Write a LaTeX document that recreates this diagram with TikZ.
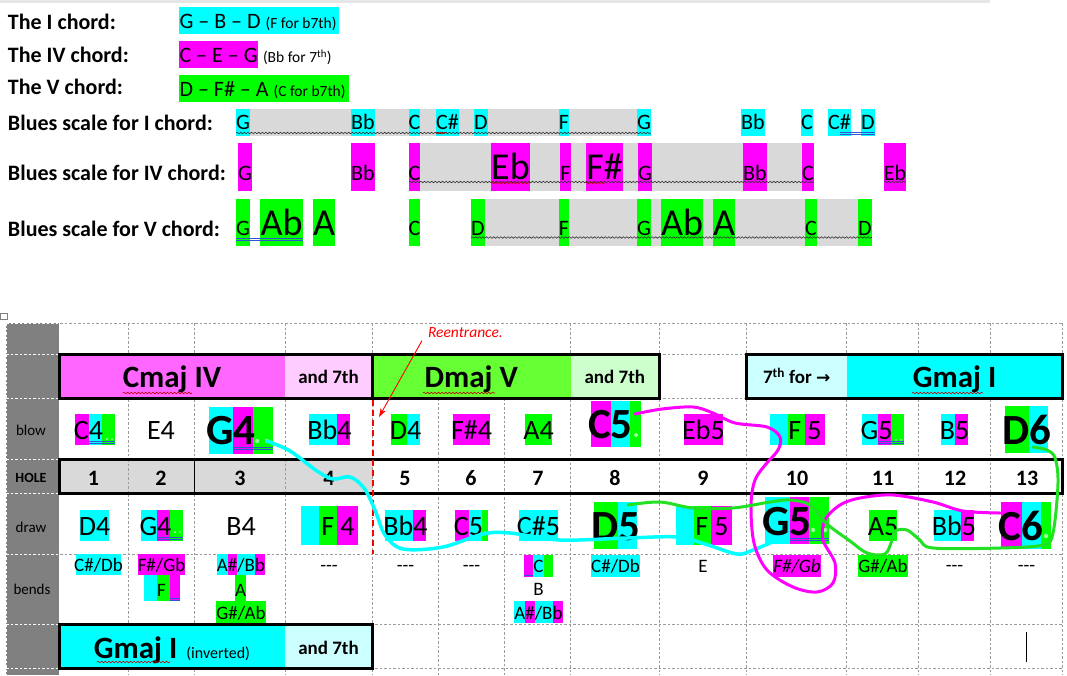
\documentclass[tikz,border=0pt]{standalone}
\usepackage{fontspec}
\setmainfont{Carlito}
\newfontfamily\dejavu{DejaVu Sans}
\usetikzlibrary{decorations.pathmorphing,arrows.meta}
\definecolor{cy}{HTML}{00FFFF}
\definecolor{mg}{HTML}{FF00FF}
\definecolor{gr}{HTML}{00FF00}
\definecolor{lg}{HTML}{D9D9D9}
\definecolor{dg}{HTML}{808080}
\definecolor{cmajc}{HTML}{FF66FF}
\definecolor{csev}{HTML}{FFCCFF}
\definecolor{dmajc}{HTML}{66FF33}
\definecolor{dsev}{HTML}{CCFFCC}
\definecolor{gsev}{HTML}{CCFFFF}
\definecolor{gridc}{HTML}{9A9A9A}
\definecolor{wavered}{HTML}{C00000}
\definecolor{blue2}{HTML}{2F55D4}
\definecolor{dotg}{HTML}{99FF99}
\definecolor{topg}{HTML}{E6E6E6}
\definecolor{curveg}{HTML}{22E022}
\newcommand\fs[1]{\fontsize{#1}{#1}\selectfont}
\newcommand\hb[5]{\fill[#1] (#2,#4) rectangle (#3,#5);}
\newcommand\sn[9]{\fill[#2] (#3,#5) rectangle (#4,#6); \node[#8] (#1) at ({(#3+#4)/2},#7) {#9};}
\newcommand\tdash{{-}{-}{-}}
\begin{document}
\begin{tikzpicture}[x=1pt,y=-1pt,
  every node/.style={inner sep=0pt,outer sep=0pt},
  lbl/.style={font=\fs{22}\bfseries,anchor=base west},
  sc/.style={font=\fs{22},anchor=base},
  scb/.style={font=\fs{38},anchor=base},
  nt/.style={font=\fs{28},anchor=base},
  bgn/.style={font=\fs{43}\bfseries,anchor=base},
  bd/.style={font=\fs{19},anchor=base},
  holenum/.style={font=\fs{22}\bfseries,anchor=base},
  sidel/.style={font=\fs{15}},
  hd/.style={font=\fs{31}\bfseries,anchor=base},
  andsev/.style={font=\fs{19}\bfseries,anchor=base},
  gridl/.style={draw=gridc,line width=0.8pt,dash pattern=on 2.5pt off 2pt},
  wgrid/.style={draw=white,line width=0.8pt,dash pattern=on 2.5pt off 2pt},
  tb/.style={line width=3pt},
  wavy/.style={decorate,decoration={snake,amplitude=0.8pt,segment length=3.6pt},line width=0.6pt,draw=black!80},
  rwavy/.style={wavy,draw=wavered},
  blu/.style={draw=blue2,line width=0.8pt},
  gdot/.style={fill=dotg},
  ncurve/.style={line width=3pt,line cap=round,line join=round},
]
\useasboundingbox (0,0) rectangle (1067,675);
\fill[white] (0,0) rectangle (1067,675);
\fill[topg] (0,0) rectangle (990,3);
\draw[gray,line width=0.5pt] (0.5,313) rectangle (7,319.5);

% ---------------- top section ----------------
\node[lbl] (l1) at (8,29.3) {The I chord:};
\node[lbl] (l2) at (8,62.5) {The IV chord:};
\node[lbl] (l3) at (8,94.3) {The V chord:};
\node[lbl] (l4) at (8,130) {Blues scale for I chord:};
\node[lbl] (l5) at (8,180) {Blues scale for IV chord:};
\node[lbl] (l6) at (8,236) {Blues scale for V chord:};

\hb{cy}{179}{339}{7}{34}
\node[anchor=base west] (c1) at (179.5,28.5) {\fs{22}G – B – D {\fs{15.5}(F for b7th)}};
\hb{mg}{179}{258}{41}{68}
\node[anchor=base west] (c2) at (179.5,62.3) {\fs{22}C – E – G};
\node[anchor=base west] (c2b) at (263,62.3) {\fs{15.5}(Bb for 7\textsuperscript{th})};
\hb{gr}{179}{349}{75}{102}
\node[anchor=base west] (c3) at (179.5,96.7) {\fs{22}D – F\# – A {\fs{15.5}(C for b7th)}};

% I row
\fill[lg] (236,109) rectangle (637,135.7);
\sn{iG1}{cy}{236}{250}{109}{135.7}{129.5}{sc}{G}
\sn{iBb1}{cy}{351}{375}{109}{135.7}{129.5}{sc}{Bb}
\sn{iC1}{cy}{409}{420}{109}{135.7}{129.5}{sc}{C}
\sn{iCs1}{cy}{436}{459}{109}{135.7}{129.5}{sc}{C\#}
\sn{iD1}{cy}{474}{488}{109}{135.7}{129.5}{sc}{D}
\sn{iF1}{cy}{559}{569}{109}{135.7}{129.5}{sc}{F}
\sn{iG2}{cy}{637}{651}{109}{135.7}{129.5}{sc}{G}
\sn{iBb2}{cy}{741}{765}{109}{135.7}{129.5}{sc}{Bb}
\sn{iC2}{cy}{801}{813}{109}{135.7}{129.5}{sc}{C}
\sn{iCs2}{cy}{828}{851}{109}{135.7}{129.5}{sc}{C\#}
\sn{iD2}{cy}{861}{875}{109}{135.7}{129.5}{sc}{D}
\draw[wavy] (236,133) -- (651,133);
\draw[rwavy] (436,133) -- (447,133);
\draw[blu] (840,132.5) -- (875,132.5);
\draw[blu] (840,134.5) -- (875,134.5);

% IV row
\fill[lg] (409,142.7) rectangle (814,190.7);
\sn{ivG1}{mg}{238}{252}{142.7}{190.7}{180}{sc}{G}
\sn{ivBb1}{mg}{351}{375}{142.7}{190.7}{180}{sc}{Bb}
\sn{ivC1}{mg}{409}{420}{142.7}{190.7}{180}{sc}{C}
\sn{ivEb1}{mg}{491}{530}{142.7}{190.7}{179}{scb}{Eb}
\sn{ivF1}{mg}{560}{571}{142.7}{190.7}{180}{sc}{F}
\sn{ivFs1}{mg}{586}{623}{142.7}{190.7}{179}{scb}{F\#}
\sn{ivG2}{mg}{638}{652}{142.7}{190.7}{180}{sc}{G}
\sn{ivBb2}{mg}{743}{767}{142.7}{190.7}{180}{sc}{Bb}
\sn{ivC2}{mg}{802}{814}{142.7}{190.7}{180}{sc}{C}
\sn{ivEb2}{mg}{884}{906}{142.7}{190.7}{180}{sc}{Eb}
\draw[wavy] (409,182) -- (814,182);
\draw[wavy] (884,182) -- (906,182);
\draw[rwavy] (491,183) -- (530,183);
\draw[rwavy] (586,183) -- (605,183);

% V row
\fill[lg] (471,199) rectangle (858,245.7);
\sn{vG1}{gr}{236}{250}{199}{245.7}{235.7}{sc}{G}
\sn{vAb1}{gr}{260}{303}{199}{245.7}{235.7}{scb}{Ab}
\sn{vA1}{gr}{313}{335}{199}{245.7}{235.7}{scb}{A}
\sn{vC1}{gr}{409}{420}{199}{245.7}{235.7}{sc}{C}
\sn{vD1}{gr}{471}{485}{199}{245.7}{235.7}{sc}{D}
\sn{vF1}{gr}{559}{569}{199}{245.7}{235.7}{sc}{F}
\sn{vG2}{gr}{637}{651}{199}{245.7}{235.7}{sc}{G}
\sn{vAb2}{gr}{661}{703}{199}{245.7}{235.7}{scb}{Ab}
\sn{vA2}{gr}{713}{735}{199}{245.7}{235.7}{scb}{A}
\sn{vC2}{gr}{805}{817}{199}{245.7}{235.7}{sc}{C}
\sn{vD2}{gr}{858}{872}{199}{245.7}{235.7}{sc}{D}
\draw[wavy] (471,237.5) -- (872,237.5);
\draw[blu] (236,238.5) -- (303,238.5);
\draw[blu] (236,240.5) -- (303,240.5);

% ---------------- table ----------------
\foreach \x in {6,59,128,194,285,372,570.7,659,746.7,846.7,918.7,990.7,1062.7}
  \draw[gridl] (\x,323) -- (\x,675);
\foreach \x in {438.7,504}
  \draw[gridl] (\x,398) -- (\x,675);
\foreach \y in {323,354,398,459,493,554,624,668}
  \draw[gridl] (6,\y) -- (1062.7,\y);

% grey header column
\fill[dg] (6,323) rectangle (59,675);
\foreach \y in {323,354,398,459,493,554,624,668}
  \draw[wgrid] (6,\y) -- (59,\y);
\draw[wgrid] (6,323) -- (6,675);
\draw[wgrid] (59,323) -- (59,675);
\node[sidel] (sblow) at (31,430) {blow};
\node[sidel,font=\fs{14}\bfseries] (shole) at (31,478) {HOLE};
\node[sidel] (sdraw) at (31,527) {draw};
\node[sidel] (sbend) at (32,589) {bends};

% chord band
\fill[cmajc] (59,354) rectangle (285,398);
\fill[csev] (285,354) rectangle (372,398);
\fill[dmajc] (372,354) rectangle (570.7,398);
\fill[dsev] (570.7,354) rectangle (659,398);
\fill[gsev] (746.7,354) rectangle (846.7,398);
\fill[cy] (846.7,354) rectangle (1062.7,398);
\draw[tb] (59,354) rectangle (659,398);
\draw[tb] (372,354) -- (372,398);
\draw[tb] (746.7,354) rectangle (1062.7,398);
\node[hd] (cmaj) at (172,387.3) {Cmaj IV};
\node[andsev] (a7a) at (328.5,383.3) {and 7th};
\node[hd] (dmaj) at (471.3,387.3) {Dmaj V};
\node[andsev] (a7b) at (614.8,383.3) {and 7th};
\node[andsev] (s7) at (796.7,383.3) {7\textsuperscript{th} for {\dejavu\bfseries\fs{17}→}};
\node[hd] (gmaj) at (954.7,387.3) {Gmaj I};
\draw[rwavy] (123,393) -- (192,393);
\draw[rwavy] (423,393) -- (495,393);
\draw[rwavy] (912,393) -- (983,393);

% HOLE row
\fill[lg] (59,459) rectangle (372,493);
\draw[gridl] (128,459) -- (128,493);
\draw[gridl] (285,459) -- (285,493);
\draw[line width=0.9pt] (194,459) -- (194,493);
\draw[tb] (59,459) rectangle (1062.7,493);
\foreach \n/\x in {1/93.5,2/161,3/240,4/329,5/405,6/471,7/538,8/615,9/703,10/797,11/883,12/955,13/1027}
  \node[holenum] (h\n) at (\x,485) {\n};

% bottom chord band
\fill[cy] (59,624) rectangle (285,668);
\fill[gsev] (285,624) rectangle (372,668);
\draw[tb] (59,624) rectangle (372,668);
\node[anchor=base] (ginv) at (172,658) {{\fs{31}\bfseries Gmaj I}\hspace{9pt}{\fs{16}(inverted)}};
\node[andsev] (a7c) at (328.5,654) {and 7th};
\draw[rwavy] (97,662) -- (170,662);

% reentrance marker
\draw[red,line width=2pt,dash pattern=on 6pt off 4pt] (372.5,400) -- (372.5,554);
\node[anchor=base west,font=\fs{15.5}\itshape,text=red] (reent) at (428,337.5) {Reentrance.};
\coordinate (rtip) at (379,417);
\draw[red,line width=0.9pt,-{Stealth[length=9pt,width=6pt]}] ([xshift=-6pt,yshift=-3pt]reent.south west) -- (rtip);

% ---------------- blow row ----------------
\hb{mg}{75}{89}{414}{445}\hb{cy}{89}{102}{414}{445}\hb{gr}{102}{115}{414}{445}
\node[nt] (bC4) at (88.5,439) {C4};
\draw[blu] (89,441.5) -- (115,441.5); \draw[blu] (89,443.5) -- (115,443.5);
\node[nt] (bE4) at (161,439) {E4};
\hb{cy}{209}{233}{407}{454}\hb{mg}{233}{253}{407}{454}\hb{gr}{253}{273}{407}{454}
\node[bgn] (bG4) at (231,444) {G4};
\draw[blu] (233,447.7) -- (273,447.7); \draw[blu] (233,449.7) -- (273,449.7);
\hb{cy}{309}{337}{414}{445}\hb{mg}{337}{350}{414}{445}
\node[nt] (bBb4) at (329.5,439) {Bb4};
\hb{gr}{391}{407}{414}{445}\hb{cy}{407}{420}{414}{445}
\node[nt] (bD4) at (405.5,439) {D4};
\sn{bFs4}{mg}{453}{490}{414}{445}{439}{nt}{F\#4}
\sn{bA4}{gr}{525}{552}{414}{445}{439}{nt}{A4}
\hb{mg}{591}{611}{401}{447}\hb{cy}{611}{630}{401}{447}\hb{gr}{630}{641}{401}{447}
\node[bgn] (bC5) at (610.5,438) {C5};
\sn{bEb5}{mg}{684}{723}{414}{445}{439}{nt}{Eb5}
\hb{cy}{770}{788}{414}{445}\hb{gr}{788}{805}{414}{445}\hb{mg}{805}{825}{414}{445}
\node[nt] (bF5) at (805,439) {F 5};
\hb{cy}{862}{878}{414}{445}\hb{mg}{878}{891}{414}{445}\hb{gr}{891}{904}{414}{445}
\node[nt] (bG5) at (876.5,439) {G5};
\draw[blu] (878,441.7) -- (904,441.7); \draw[blu] (878,443.7) -- (904,443.7);
\hb{cy}{941}{955}{414}{445}\hb{mg}{955}{968}{414}{445}
\node[nt] (bB5) at (954.5,439) {B5};
\hb{gr}{1005}{1029}{406}{453}\hb{cy}{1029}{1048}{406}{453}
\node[bgn] (bD6) at (1026.5,444) {D6};

% ---------------- draw row ----------------
\sn{dD4}{cy}{80}{109}{510}{541}{535}{nt}{D4}
\hb{cy}{141}{157}{510}{541}\hb{mg}{157}{170}{510}{541}\hb{gr}{170}{183}{510}{541}
\node[nt] (dG4) at (155.5,535) {G4};
\draw[blu] (157,537.3) -- (183,537.3); \draw[blu] (157,539.3) -- (183,539.3);
\node[nt] (dB4) at (241,535) {B4};
\hb{cy}{301}{319}{506}{545}\hb{gr}{319}{337}{506}{545}\hb{mg}{337}{358}{506}{545}
\node[nt] (dF4) at (338,535) {F 4};
\hb{cy}{385}{413}{510}{541}\hb{mg}{413}{426}{510}{541}
\node[nt] (dBb4) at (405.5,535) {Bb4};
\hb{mg}{455}{469}{510}{541}\hb{cy}{469}{482}{510}{541}\hb{gr}{482}{488}{510}{541}
\node[nt] (dC5) at (468.5,535) {C5};
\sn{dCs5}{cy}{519}{558}{510}{541}{535}{nt}{C\#5}
\hb{gr}{594}{618}{502}{549}\hb{cy}{618}{637}{502}{549}
\node[bgn] (dD5) at (615.5,540) {D5};
\hb{cy}{676}{694}{506}{545}\hb{gr}{694}{711}{506}{545}\hb{mg}{711}{732}{506}{545}
\node[nt] (dF5) at (712,535) {F 5};
\hb{cy}{765}{790}{497}{544}\hb{mg}{790}{809}{497}{544}\hb{gr}{809}{829}{497}{544}
\node[bgn] (dG5) at (787,535) {G5};
\draw[blu] (790,538.7) -- (829,538.7); \draw[blu] (790,540.7) -- (829,540.7);
\sn{dA5}{gr}{869}{897}{510}{541}{535}{nt}{A5}
\hb{cy}{934}{961}{510}{541}\hb{mg}{961}{974}{510}{541}
\node[nt] (dBb5) at (954,535) {Bb5};
\hb{mg}{1001}{1022}{502}{549}\hb{cy}{1022}{1041}{502}{549}\hb{gr}{1041}{1051}{502}{549}
\node[bgn] (dC6) at (1021,540) {C6};

% green formatting dots
\fill[gdot] (257,441) circle (2.2); \fill[gdot] (267,441) circle (2.2);
\fill[gdot] (107,439) circle (1.2); \fill[gdot] (112,439) circle (1.2);
\fill[gdot] (636,435) circle (2);
\fill[gdot] (896,440) circle (1.2); \fill[gdot] (901,440) circle (1.2);
\fill[gdot] (175,532) circle (1.2); \fill[gdot] (180,532) circle (1.2);
\fill[gdot] (813,530) circle (2.2); \fill[gdot] (825,530) circle (2.2);
\fill[gdot] (1046,536) circle (2.2);
\fill[gdot] (485,532) circle (1);

% ---------------- bends row ----------------
\sn{eCs1}{cy}{76}{121}{554}{575}{571}{bd}{C\#/Db}
\sn{eFs2}{mg}{138}{185}{554}{575}{571}{bd}{F\#/Gb}
\hb{cy}{144}{157}{575}{601}\hb{gr}{157}{170}{575}{601}\hb{mg}{170}{180}{575}{601}
\node[bd] (eF2) at (161.5,596) {F};
\draw[blu] (170,598.3) -- (180,598.3); \draw[blu] (170,600.2) -- (180,600.2);
\hb{cy}{217}{228}{554}{575}\hb{mg}{228}{237}{554}{575}\hb{cy}{237}{255}{554}{575}\hb{mg}{255}{265}{554}{575}
\node[bd] (eAs3) at (241,571) {A\#/Bb};
\sn{eA3}{gr}{235}{246}{575}{601}{596}{bd}{A}
\sn{eGs3}{gr}{216}{266}{601}{623}{619}{bd}{G\#/Ab}
\node[bd] (e4) at (329,571) {\tdash};
\node[bd] (e5) at (405.5,571) {\tdash};
\node[bd] (e6) at (471.5,571) {\tdash};
\hb{mg}{524}{533}{555}{577}\hb{cy}{533}{544}{555}{577}\hb{gr}{544}{553}{555}{577}
\node[bd] (eC7) at (538.5,572) {C};
\draw[blu] (524,575.5) -- (533,575.5);
\node[bd] (eB7) at (538.5,595) {B};
\hb{cy}{514}{525}{601}{623}\hb{mg}{525}{535}{601}{623}\hb{cy}{535}{553}{601}{623}\hb{mg}{553}{563}{601}{623}
\node[bd] (eAs7) at (538.5,619) {A\#/Bb};
\sn{eCs8}{cy}{591}{640}{555}{577}{572}{bd}{C\#/Db}
\node[bd] (eE9) at (703,572) {E};
\sn{eFs10}{mg}{773}{821}{555}{577}{572}{bd,font=\fs{19}\itshape}{F\#/Gb}
\sn{eGs11}{gr}{858}{908}{555}{577}{572}{bd}{G\#/Ab}
\node[bd] (e12) at (954.5,571) {\tdash};
\node[bd] (e13) at (1026.5,571) {\tdash};

% text cursor
\draw[line width=0.8pt] (1026,632) -- (1026,662);

% ---------------- curves ----------------
\draw[ncurve,cy,line width=3.5pt] plot[smooth,tension=0.55] coordinates {(267,441) (290,451) (317,471) (333,479) (350,477) (364,488) (375,510) (385,535) (403,549) (443,547) (483,534) (510,533) (560,540) (627,538) (677,537) (705,544) (737,554) (753,550) (770,543)};
\draw[ncurve,mg] plot[smooth,tension=0.55] coordinates {(635,414) (662,409) (693,407) (713,413) (735,423) (767,427) (780,437) (778,450) (766,464) (755,480) (751,505) (754,543) (767,570) (793,587) (817,592) (833,583) (835,563) (823,540) (825,520) (840,505) (860,498) (893,495) (933,502) (963,511) (1000,513)};
\draw[ncurve,curveg] plot[smooth,tension=0.55] coordinates {(628,505) (660,502) (693,508) (733,508) (770,502) (790,500) (810,505) (827,524) (850,541) (867,553) (885,554) (892,540) (895,531) (907,530) (920,540) (933,548) (1000,548) (1043,545) (1053,533) (1058,483) (1055,458) (1047,450) (1033,447)};
\end{tikzpicture}
\end{document}
